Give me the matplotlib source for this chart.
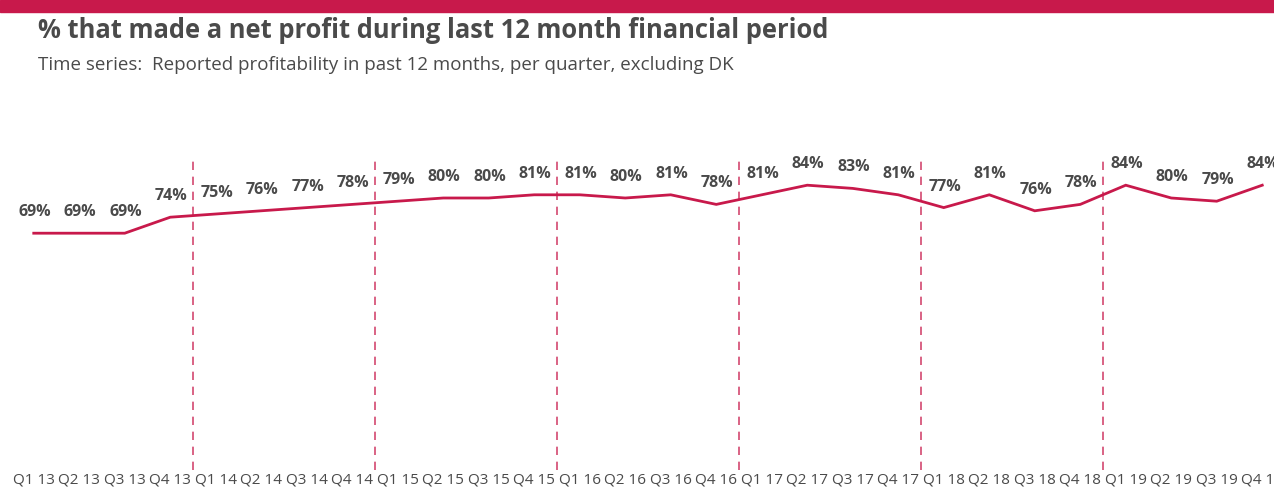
import matplotlib
matplotlib.use("Agg")
import matplotlib.pyplot as plt
from matplotlib.patches import Rectangle

plt.rcParams['font.family'] = ['Open Sans', 'DejaVu Sans']

quarters = ["Q1", "Q2", "Q3", "Q4"]
years = ["13", "14", "15", "16", "17", "18", "19"]
labels = [f"{q} {y}" for y in years for q in quarters]
values = [69, 69, 69, 74, 75, 76, 77, 78, 79, 80, 80, 81, 81, 80, 81, 78,
          81, 84, 83, 81, 77, 81, 76, 78, 84, 80, 79, 84]

title = "% that made a net profit during last 12 month financial period"
subtitle = "Time series:  Reported profitability in past 12 months, per quarter, excluding DK"

RED = "#c8194b"
TXT = "#4a4a4a"

W, H = 1274, 493
fig = plt.figure(figsize=(W / 100, H / 100), dpi=100)
fig.patches.append(Rectangle((0, 1 - 12 / H), 1, 12 / H, transform=fig.transFigure,
                             color=RED, zorder=0))
fig.text(38 / W, 1 - 31 / H, title, fontsize=18.4, fontweight='bold', color=TXT,
         va='center', ha='left')
fig.text(38 / W, 1 - 65 / H, subtitle, fontsize=13.5, color=TXT, va='center', ha='left')

ax = fig.add_axes([0, (H - 454) / H, 1, 320 / H])
x = list(range(len(values)))
ax.plot(x, values, color=RED, lw=2.0, solid_joinstyle='miter', zorder=3)
ax.set_xlim(-33.75 / 45.5, (W - 33.75) / 45.5)
ax.set_ylim(0, 100)

for i, v in enumerate(values):
    ax.annotate(f"{v}%", (i, v), xytext=(1, 13), textcoords='offset pixels',
                ha='center', va='bottom', fontsize=11.5, fontweight='bold', color=TXT,
                annotation_clip=False)

for b in range(4, len(values), 4):
    ax.axvline(b - 0.5, ymin=-0.05, ymax=0.92, color=RED, alpha=0.8, lw=1.2,
               ls=(0, (5, 4)), clip_on=False, zorder=1)

ax.set_xticks(x)
ax.set_xticklabels(labels, fontsize=11, color=TXT)
ax.tick_params(axis='x', length=0, pad=13)
ax.set_yticks([])
for s in ax.spines.values():
    s.set_visible(False)
ax.patch.set_alpha(0)

fig.savefig("out.png", dpi=100)
